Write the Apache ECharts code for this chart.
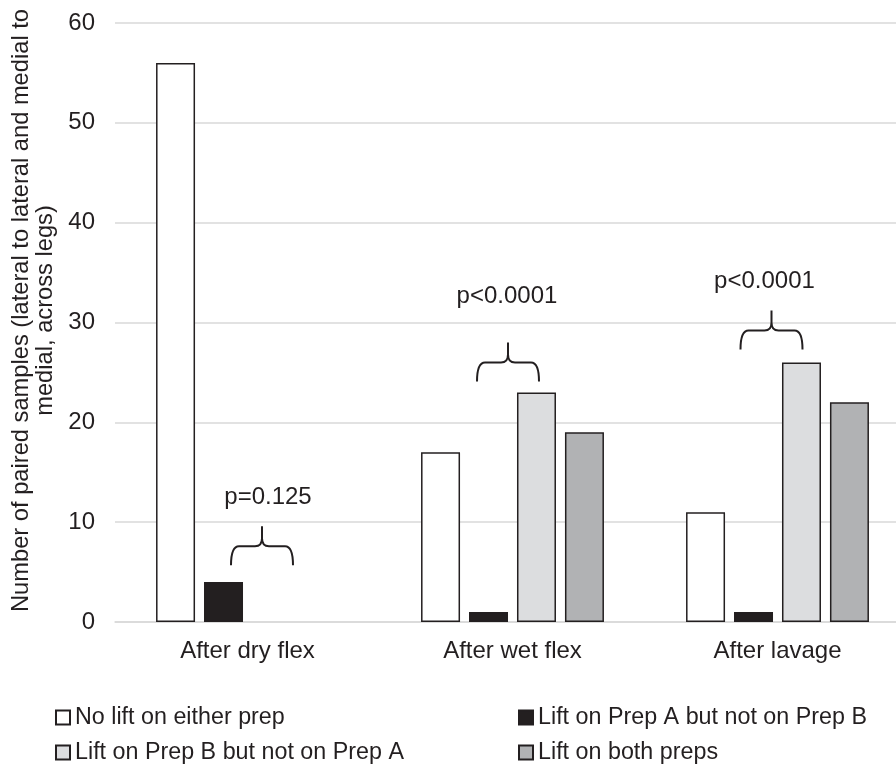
<!DOCTYPE html>
<html>
<head>
<meta charset="utf-8">
<script src="https://cdn.jsdelivr.net/npm/echarts@6/dist/echarts.min.js"></script>
<style>html,body{margin:0;padding:0;background:#fff;}#chart{width:896px;height:764px;}</style>
</head>
<body>
<div id="chart"></div>
<script>
const categories = ['After dry flex', 'After wet flex', 'After lavage'];
const noLift = [56, 17, 11];
const liftA = [4, 1, 1];
const liftB = [0, 23, 26];
const liftBoth = [0, 19, 22];
const seriesNames = ['No lift on either prep', 'Lift on Prep A but not on Prep B', 'Lift on Prep B but not on Prep A', 'Lift on both preps'];
const pLabels = ['p=0.125', 'p<0.0001', 'p<0.0001'];
const braceTip = [9.6, 28, 31.2];
const pLabelY = [12.5, 32.6, 34.1];
const yMin = 0, yMax = 60, yStep = 10;

// annotation style offsets (pixels, relative to category centre)
const braceDx = [14.5, -4.5, -6];
const labelDx = [20.5, -5.5, -13];
// legend placement (style)
const legendPos = [[55, 706], [518, 706], [55, 741], [518, 741]];
const legendOrder = [0, 1, 2, 3];

const FONT = '"Liberation Sans", Arial, sans-serif';
const FS = 24;
const LFS = 23.3;
const TXT = '#231f20';
const EDGE = '#231f20';
const fills = ['#ffffff', '#231f20', '#dcdddf', '#b1b2b4'];
const values = [noLift, liftA, liftB, liftBoth];

const chart = echarts.init(document.getElementById('chart'), null, {renderer: 'canvas'});

const barSeries = values.map((v, k) => ({
  name: seriesNames[k],
  type: 'bar',
  data: v.map(x => x === 0 ? {value: x, itemStyle: {borderWidth: 0}} : x),
  barWidth: 39,
  barGap: '23%',
  itemStyle: {color: fills[k], borderColor: EDGE, borderWidth: 1.5},
  emphasis: {disabled: true}
}));

const braceSeries = {
  type: 'custom',
  name: 'annot',
  silent: true,
  data: categories.map((c, i) => [i, braceTip[i], pLabelY[i]]),
  encode: {x: 0, y: 1},
  renderItem: function (params, api) {
    const i = api.value(0);
    const tip = api.coord([i, api.value(1)]);
    const lab = api.coord([i, api.value(2)]);
    const cx = tip[0] + braceDx[i];
    const T = tip[1], H = T + 20, B = H + 19;
    const L = cx - 31, R = cx + 31;
    const d = 'M' + L + ' ' + B + ' Q' + L + ' ' + H + ' ' + (L + 8) + ' ' + H +
      ' L' + (cx - 7) + ' ' + H + ' Q' + cx + ' ' + H + ' ' + cx + ' ' + (H - 8) +
      ' L' + cx + ' ' + T +
      ' M' + cx + ' ' + (H - 8) + ' Q' + cx + ' ' + H + ' ' + (cx + 7) + ' ' + H +
      ' L' + (R - 8) + ' ' + H + ' Q' + R + ' ' + H + ' ' + R + ' ' + B;
    return {
      type: 'group',
      children: [
        {type: 'path', shape: {pathData: d}, style: {stroke: EDGE, lineWidth: 2, fill: null}},
        {type: 'text', style: {text: pLabels[i], x: lab[0] + labelDx[i], y: lab[1], textAlign: 'center', textVerticalAlign: 'middle', fontSize: FS, fontFamily: FONT, fill: TXT}}
      ]
    };
  }
};

const legends = legendOrder.map((k, j) => ({
  left: legendPos[j][0],
  top: legendPos[j][1],
  orient: 'horizontal',
  icon: 'rect',
  itemWidth: 14,
  itemHeight: 14,
  selectedMode: false,
  padding: 0,
  data: [seriesNames[k]],
  textStyle: {fontSize: LFS, fontFamily: FONT, color: TXT}
}));

chart.setOption({
  animation: false,
  backgroundColor: '#ffffff',
  grid: {left: 115, right: -14, top: 23, bottom: 142, containLabel: false, outerBoundsMode: 'none'},
  legend: legends,
  xAxis: {
    type: 'category',
    data: categories,
    axisLine: {lineStyle: {color: '#d9d9d9', width: 1.5}},
    axisTick: {show: false},
    axisLabel: {fontSize: FS, fontFamily: FONT, color: TXT, margin: 17}
  },
  yAxis: {
    type: 'value',
    min: yMin, max: yMax, interval: yStep,
    name: 'Number of paired samples (lateral to lateral and medial to\nmedial, across legs)',
    nameLocation: 'middle',
    nameRotate: 90,
    nameGap: 57,
    nameTextStyle: {fontSize: 23.7, fontFamily: FONT, color: TXT, lineHeight: 24, padding: [0, 0, 0, 24]},
    axisLine: {show: false},
    axisTick: {show: false},
    axisLabel: {fontSize: FS, fontFamily: FONT, color: TXT, margin: 20},
    splitLine: {lineStyle: {color: '#d9d9d9', width: 1.5}}
  },
  series: barSeries.concat([braceSeries])
});
</script>
</body>
</html>
